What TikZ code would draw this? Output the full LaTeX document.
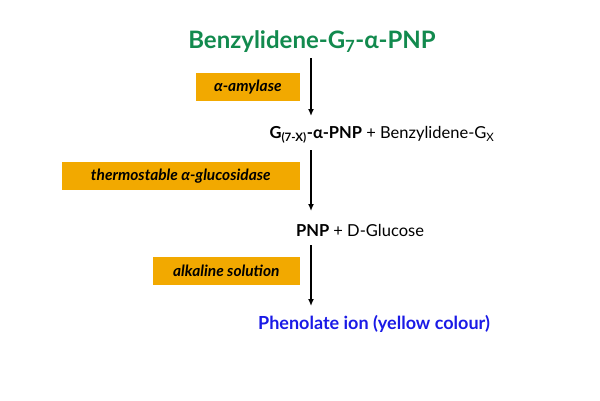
\documentclass[tikz,border=0pt]{standalone}
\usepackage{fontspec}
\setmainfont{Lato}
\usetikzlibrary{arrows.meta}
\definecolor{boxor}{HTML}{F2A900}
\definecolor{tgreen}{HTML}{128A4E}
\definecolor{tblue}{HTML}{1A1AE6}
\begin{document}
\begin{tikzpicture}[x=1pt,y=-1pt,
  lab/.style={fill=boxor,inner sep=0pt,anchor=east,font=\fontsize{15.5}{18}\selectfont\itshape\bfseries,minimum height=28pt},
  arr/.style={-{Latex[length=7pt,width=6pt]},line width=1.3pt}]
\useasboundingbox (0,0) rectangle (600,400);
\node[font=\fontsize{24}{28}\selectfont\bfseries,text=tgreen] (t) at (312,42) {Benzylidene-G\textsubscript{7}-α-PNP};
\node[font=\fontsize{16.5}{18}\selectfont] (g) at (382,135) {\textbf{G\textsubscript{(7-X)}-α-PNP} + Benzylidene-G\textsubscript{X}};
\node[font=\fontsize{16.5}{18}\selectfont] (p) at (360,230) {\textbf{PNP} + D-Glucose};
\node[font=\fontsize{18}{20}\selectfont\bfseries,text=tblue] (f) at (374,324) {Phenolate ion (yellow colour)};
\coordinate (a1) at (311,58); \coordinate (b1) at (311,116);
\coordinate (a2) at (311,150); \coordinate (b2) at (311,211);
\coordinate (a3) at (311,245); \coordinate (b3) at (311,306);
\draw[arr] (a1) -- (b1);
\draw[arr] (a2) -- (b2);
\draw[arr] (a3) -- (b3);
\node[lab,minimum width=104pt] (l1) at (300,87) {α-amylase};
\node[lab,minimum width=238pt] (l2) at (300,176) {thermostable α-glucosidase};
\node[lab,minimum width=147pt] (l3) at (300,271) {alkaline solution};
\end{tikzpicture}
\end{document}
